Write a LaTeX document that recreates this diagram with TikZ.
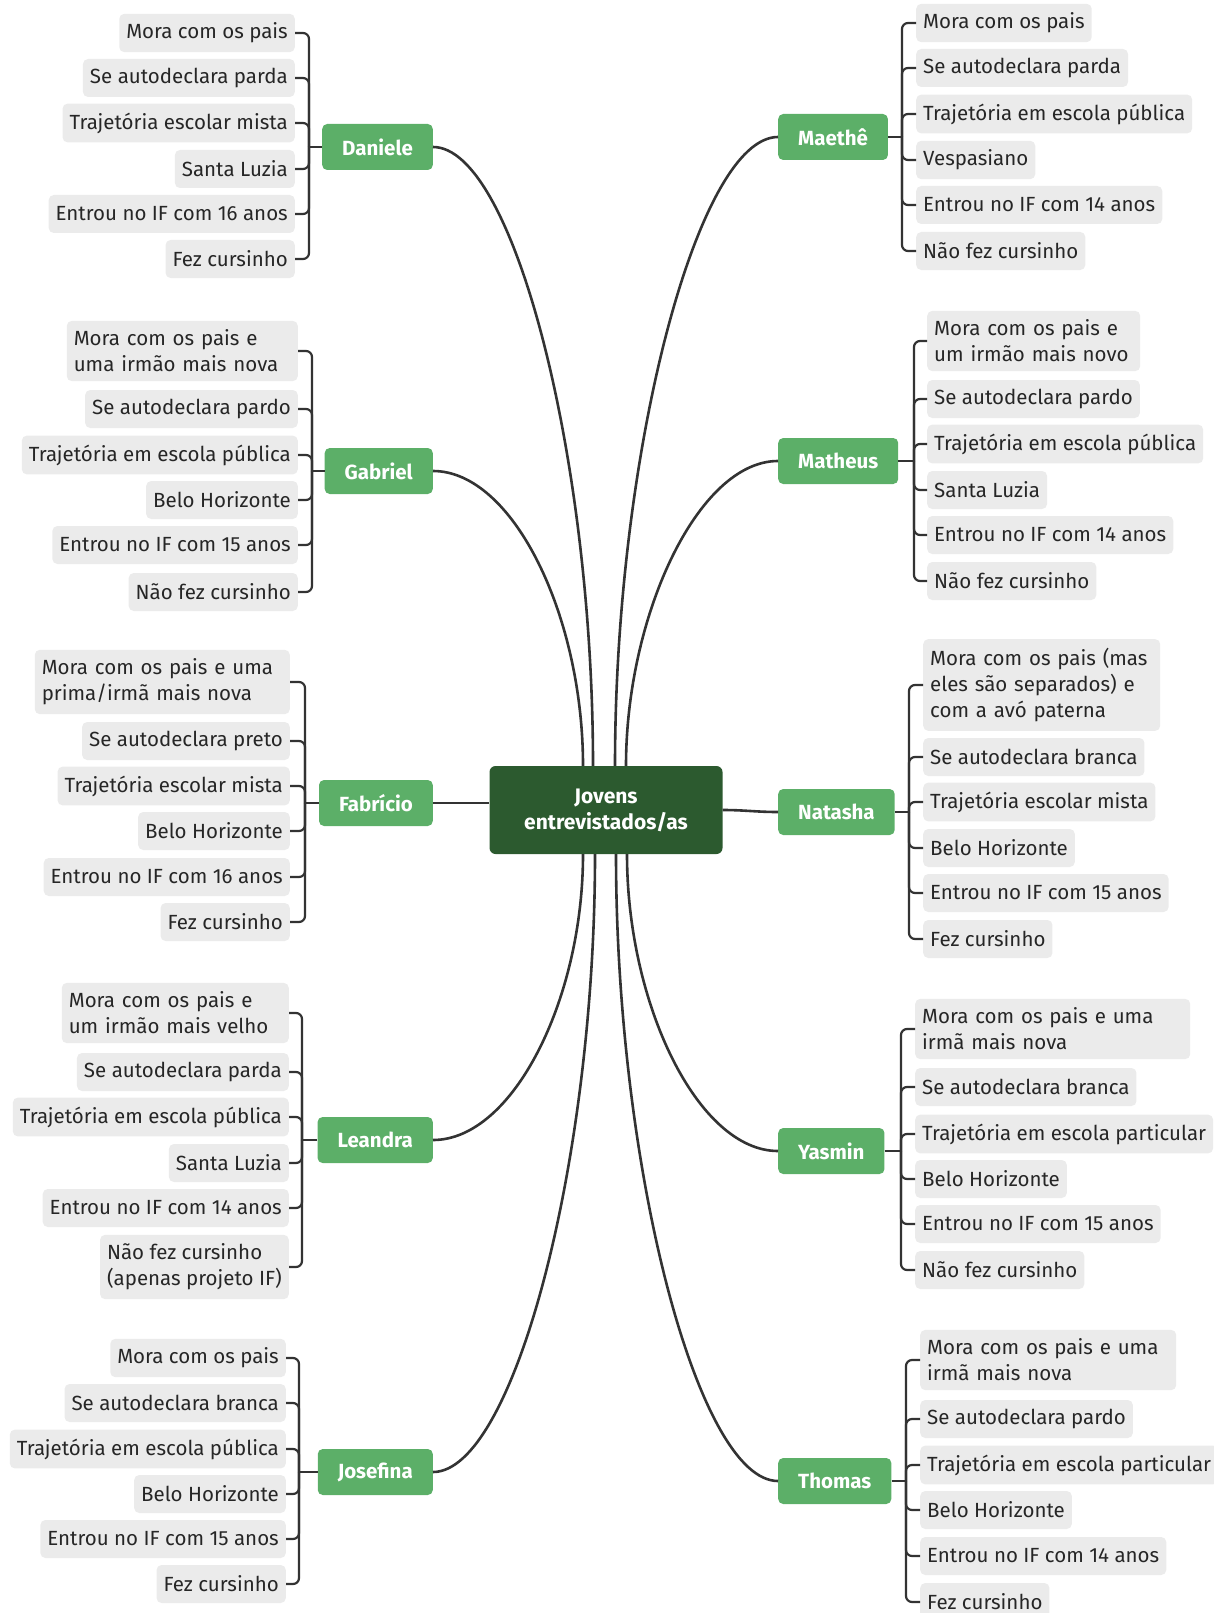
\documentclass[tikz,border=0pt]{standalone}
\usepackage{fontspec}
\setmainfont{Fira Sans}
\usepackage{tikz}
\usetikzlibrary{positioning}
\definecolor{hubgreen}{HTML}{2C5A2F}
\definecolor{namegreen}{HTML}{5CAF68}
\definecolor{leafgray}{HTML}{EBEBEB}
\definecolor{linegray}{HTML}{333333}
\definecolor{inkgray}{HTML}{262626}

\begin{document}
\begin{tikzpicture}[
        x=1pt,
        y=-1pt,
        font=\fontsize{20.5}{26}\selectfont,
        hub/.style={fill=hubgreen, text=white, font=\fontsize{21}{26}\selectfont\bfseries, rounded corners=6pt, align=center, minimum width=233pt, minimum height=88pt},
        person/.style={fill=namegreen, text=white, font=\fontsize{20.5}{26}\selectfont\bfseries, rounded corners=5pt, inner xsep=20pt, minimum height=46pt},
        leaf/.style={fill=leafgray, text=inkgray, rounded corners=5pt, align=left, inner xsep=7pt, inner ysep=9pt, minimum height=38pt},
        link/.style={linegray, line width=2.6pt},
        brace/.style={linegray, line width=2.2pt, rounded corners=6pt}
    ]
        \useasboundingbox (0,0) rectangle (1213,1613);

        \node[hub] (ctr) at (606,810) {Jovens\\entrevistados/as};

        % left side
        \node[person, anchor=east] (dan) at (433,147) {Daniele};
        \node[person, anchor=east] (gab) at (433,471) {Gabriel};
        \node[person, anchor=east] (fab) at (433,803) {Fabrício};
        \node[person, anchor=east] (lea) at (433,1140) {Leandra};
        \node[person, anchor=east] (jos) at (433,1472) {Josefina};

        % right side
        \node[person, anchor=west] (mae) at (778,137) {Maethê};
        \node[person, anchor=west] (mat) at (778,461) {Matheus};
        \node[person, anchor=west] (nat) at (778,812) {Natasha};
        \node[person, anchor=west] (yas) at (778,1151) {Yasmin};
        \node[person, anchor=west] (tho) at (778,1481) {Thomas};

        \draw[link] (dan.east) .. controls +(80,0) and +(0,-310) .. ([xshift=-13pt]ctr.north);
        \draw[link] (gab.east) .. controls +(80,0) and +(0,-150) .. ([xshift=-23pt]ctr.north);
        \draw[link] (fab.east) -- (ctr.west |- fab.east);
        \draw[link] (lea.east) .. controls +(80,0) and +(0,145) .. ([xshift=-23pt]ctr.south);
        \draw[link] (jos.east) .. controls +(80,0) and +(0,310) .. ([xshift=-11pt]ctr.south);
        \draw[link] (mae.west) .. controls +(-80,0) and +(0,-315) .. ([xshift=9pt]ctr.north);
        \draw[link] (mat.west) .. controls +(-80,0) and +(0,-150) .. ([xshift=20pt]ctr.north);
        \draw[link] (ctr.east) to[out=0, in=180] (nat.west);
        \draw[link] (yas.west) .. controls +(-80,0) and +(0,150) .. ([xshift=21pt]ctr.south);
        \draw[link] (tho.west) .. controls +(-80,0) and +(0,315) .. ([xshift=10pt]ctr.south);

        % Daniele
        \coordinate (danhub) at (309,147);
        \draw[brace] (dan.west) -- (danhub);
        \foreach \y/\txt [count=\i] in {33/Mora com os pais,78/Se autodeclara parda,123/Trajetória escolar mista,169/Santa Luzia,214/Entrou no IF com 16 anos,259/Fez cursinho} {
            \node[leaf, anchor=east] (dan\i) at (295,\y) {\txt};
            \draw[brace] (danhub) |- (dan\i.east);
        }

        % Gabriel
        \coordinate (gabhub) at (312,471);
        \draw[brace] (gab.west) -- (gabhub);
        \node[leaf, anchor=east, text width=217pt] (gab1) at (298,351) {Mora com os pais e\\uma irmão mais nova};
        \draw[brace] (gabhub) |- (gab1.east);
        \foreach \y/\txt [count=\i from 2] in {409/Se autodeclara pardo,455/Trajetória em escola pública,500/Belo Horizonte,545/Entrou no IF com 15 anos,592/Não fez cursinho} {
            \node[leaf, anchor=east] (gab\i) at (298,\y) {\txt};
            \draw[brace] (gabhub) |- (gab\i.east);
        }

        % Fabrício
        \coordinate (fabhub) at (305,803);
        \draw[brace] (fab.west) -- (fabhub);
        \node[leaf, anchor=east, text width=241pt] (fab1) at (290,682) {Mora com os pais e uma\\prima/irmã mais nova};
        \draw[brace] (fabhub) |- (fab1.east);
        \foreach \y/\txt [count=\i from 2] in {741/Se autodeclara preto,786/Trajetória escolar mista,831/Belo Horizonte,877/Entrou no IF com 16 anos,922/Fez cursinho} {
            \node[leaf, anchor=east] (fab\i) at (290,\y) {\txt};
            \draw[brace] (fabhub) |- (fab\i.east);
        }

        % Leandra
        \coordinate (leahub) at (302,1140);
        \draw[brace] (lea.west) -- (leahub);
        \node[leaf, anchor=east, text width=213pt] (lea1) at (289,1013) {Mora com os pais e\\um irmão mais velho};
        \draw[brace] (leahub) |- (lea1.east);
        \foreach \y/\txt [count=\i from 2] in {1072/Se autodeclara parda,1117/Trajetória em escola pública,1163/Santa Luzia,1208/Entrou no IF com 14 anos,1267/{Não fez cursinho\\(apenas projeto IF)}} {
            \node[leaf, anchor=east] (lea\i) at (289,\y) {\txt};
            \draw[brace] (leahub) |- (lea\i.east);
        }

        % Josefina
        \coordinate (joshub) at (299,1472);
        \draw[brace] (jos.west) -- (joshub);
        \foreach \y/\txt [count=\i] in {1358/Mora com os pais,1403/Se autodeclara branca,1449/Trajetória em escola pública,1494/Belo Horizonte,1539/Entrou no IF com 15 anos,1584/Fez cursinho} {
            \node[leaf, anchor=east] (jos\i) at (286,\y) {\txt};
            \draw[brace] (joshub) |- (jos\i.east);
        }

        % Maethê
        \coordinate (maehub) at (902,137);
        \draw[brace] (mae.east) -- (maehub);
        \foreach \y/\txt [count=\i] in {23/Mora com os pais,68/Se autodeclara parda,114/Trajetória em escola pública,160/Vespasiano,205/Entrou no IF com 14 anos,251/Não fez cursinho} {
            \node[leaf, anchor=west] (mae\i) at (916,\y) {\txt};
            \draw[brace] (maehub) |- (mae\i.west);
        }

        % Matheus
        \coordinate (mathub) at (914,461);
        \draw[brace] (mat.east) -- (mathub);
        \node[leaf, anchor=west, text width=199pt] (mat1) at (927,341) {Mora com os pais e\\um irmão mais novo};
        \draw[brace] (mathub) |- (mat1.west);
        \foreach \y/\txt [count=\i from 2] in {399/Se autodeclara pardo,444/Trajetória em escola pública,490/Santa Luzia,535/Entrou no IF com 14 anos,581/Não fez cursinho} {
            \node[leaf, anchor=west] (mat\i) at (927,\y) {\txt};
            \draw[brace] (mathub) |- (mat\i.west);
        }

        % Natasha
        \coordinate (nathub) at (909,812);
        \draw[brace] (nat.east) -- (nathub);
        \node[leaf, anchor=west, text width=223pt] (nat1) at (923,685) {Mora com os pais (mas\\eles são separados) e\\com a avó paterna};
        \draw[brace] (nathub) |- (nat1.west);
        \foreach \y/\txt [count=\i from 2] in {757/Se autodeclara branca,802/Trajetória escolar mista,848/Belo Horizonte,893/Entrou no IF com 15 anos,939/Fez cursinho} {
            \node[leaf, anchor=west] (nat\i) at (923,\y) {\txt};
            \draw[brace] (nathub) |- (nat\i.west);
        }

        % Yasmin
        \coordinate (yashub) at (901,1151);
        \draw[brace] (yas.east) -- (yashub);
        \node[leaf, anchor=west, text width=261pt] (yas1) at (915,1029) {Mora com os pais e uma\\irmã mais nova};
        \draw[brace] (yashub) |- (yas1.west);
        \foreach \y/\txt [count=\i from 2] in {1087/Se autodeclara branca,1134/Trajetória em escola particular,1179/Belo Horizonte,1224/Entrou no IF com 15 anos,1270/Não fez cursinho} {
            \node[leaf, anchor=west] (yas\i) at (915,\y) {\txt};
            \draw[brace] (yashub) |- (yas\i.west);
        }

        % Thomas
        \coordinate (thohub) at (906,1481);
        \draw[brace] (tho.east) -- (thohub);
        \node[leaf, anchor=west, text width=242pt] (tho1) at (920,1360) {Mora com os pais e uma\\irmã mais nova};
        \draw[brace] (thohub) |- (tho1.west);
        \foreach \y/\txt [count=\i from 2] in {1419/Se autodeclara pardo,1465/Trajetória em escola particular,1510/Belo Horizonte,1556/Entrou no IF com 14 anos,1602/Fez cursinho} {
            \node[leaf, anchor=west] (tho\i) at (920,\y) {\txt};
            \draw[brace] (thohub) |- (tho\i.west);
        }
    \end{tikzpicture}
\end{document}
